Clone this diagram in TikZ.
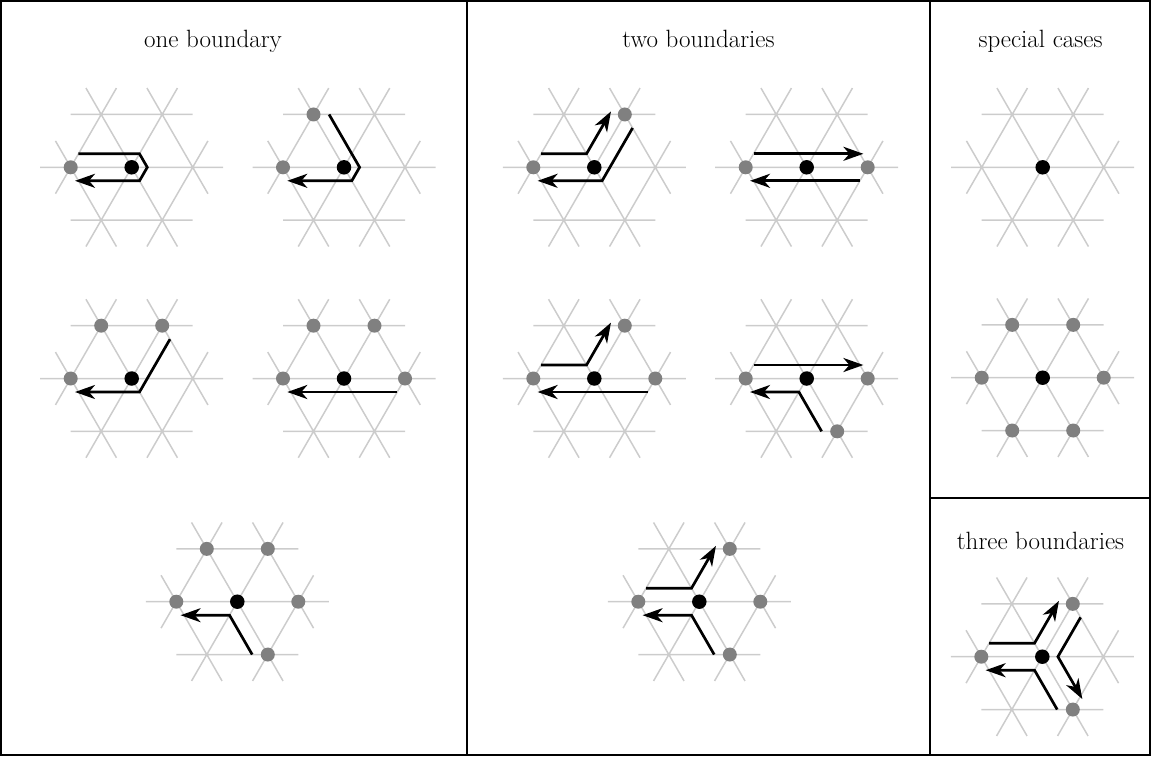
\documentclass[tikz,border=0pt]{standalone}
\usetikzlibrary{arrows.meta}
\definecolor{latgray}{gray}{0.8}
\definecolor{dotgray}{gray}{0.5}
\def\la{61}
\def\lh{52.828}
\def\lr{15.588}
\expandafter\def\csname lptOx\endcsname{0}
\expandafter\def\csname lptOy\endcsname{0}
\expandafter\def\csname lptWx\endcsname{-\la}
\expandafter\def\csname lptWy\endcsname{0}
\expandafter\def\csname lptEx\endcsname{\la}
\expandafter\def\csname lptEy\endcsname{0}
\expandafter\def\csname lptNWx\endcsname{-0.5*\la}
\expandafter\def\csname lptNWy\endcsname{\lh}
\expandafter\def\csname lptNEx\endcsname{0.5*\la}
\expandafter\def\csname lptNEy\endcsname{\lh}
\expandafter\def\csname lptSWx\endcsname{-0.5*\la}
\expandafter\def\csname lptSWy\endcsname{-\lh}
\expandafter\def\csname lptSEx\endcsname{0.5*\la}
\expandafter\def\csname lptSEy\endcsname{-\lh}
\newcommand\V[2]{({\csname lpt#1x\endcsname+\lr*cos(#2)},{\csname lpt#1y\endcsname+\lr*sin(#2)})}
\newcommand\gd[2]{\node[gdot] (#1) at ({\csname lpt#2x\endcsname},{\csname lpt#2y\endcsname}) {};}
\newcommand\latt{%
 \draw[latline] (-1.5*\la,0) -- (1.5*\la,0)
   (-\la,\lh) -- (\la,\lh)
   (-\la,-\lh) -- (\la,-\lh)
   (-0.75*\la,-1.5*\lh) -- (0.75*\la,1.5*\lh)
   (-1.25*\la,-0.5*\lh) -- (-0.25*\la,1.5*\lh)
   (0.25*\la,-1.5*\lh) -- (1.25*\la,0.5*\lh)
   (0.75*\la,-1.5*\lh) -- (-0.75*\la,1.5*\lh)
   (1.25*\la,-0.5*\lh) -- (0.25*\la,1.5*\lh)
   (-0.25*\la,-1.5*\lh) -- (-1.25*\la,0.5*\lh);
}
\tikzset{
  latline/.style={draw=latgray, line width=1.5pt},
  bdot/.style={circle, fill=black, inner sep=0pt, minimum size=14.5pt},
  gdot/.style={circle, fill=dotgray, inner sep=0pt, minimum size=14pt},
  bpath/.style={draw=black, line width=2.7pt},
  barrow/.style={bpath, shorten >=-3.5pt, -{Stealth[length=20pt,width=14pt,inset=6pt]}},
  frame/.style={draw=black, line width=2pt},
  title/.style={font=\fontsize{25}{30}\selectfont, anchor=base}
}
\begin{document}
\begin{tikzpicture}[x=1pt,y=-1pt]
\useasboundingbox (0,0) rectangle (1151,756);
\draw[frame] (1,1) rectangle (1150,755);
\draw[frame] (467,1) -- (467,755) (930,1) -- (930,755) (930,498) -- (1150,498);
\node[title] (t1) at (213,47) {one boundary};
\node[title] (t2) at (698.5,47) {two boundaries};
\node[title] (t3) at (1040.5,47) {special cases};
\node[title] (t4) at (1040.5,549) {three boundaries};
% D1
\begin{scope}[shift={(131.7,167.3)},yscale=-1]
 \latt
 \gd{d1W}{W}
 \node[bdot] (d1O) at (0,0) {};
 \draw[barrow] \V{W}{60} -- \V{O}{60} -- \V{O}{0} -- \V{O}{300} -- \V{W}{300};
\end{scope}
% D2
\begin{scope}[shift={(344,167.3)},yscale=-1]
 \latt
 \gd{d2W}{W}\gd{d2NW}{NW}
 \node[bdot] (d2O) at (0,0) {};
 \draw[barrow] \V{NW}{0} -- \V{O}{0} -- \V{O}{300} -- \V{W}{300};
\end{scope}
% D3
\begin{scope}[shift={(131.7,378.5)},yscale=-1]
 \latt
 \gd{d3W}{W}\gd{d3NW}{NW}\gd{d3NE}{NE}
 \node[bdot] (d3O) at (0,0) {};
 \draw[barrow] \V{NE}{300} -- \V{O}{300} -- \V{W}{300};
\end{scope}
% D4
\begin{scope}[shift={(344,378.5)},yscale=-1]
 \latt
 \gd{d4W}{W}\gd{d4NW}{NW}\gd{d4NE}{NE}\gd{d4E}{E}
 \node[bdot] (d4O) at (0,0) {};
 \draw[barrow] \V{E}{240} -- \V{W}{300};
\end{scope}
% D5
\begin{scope}[shift={(237.3,601.7)},yscale=-1]
 \latt
 \gd{d5W}{W}\gd{d5NW}{NW}\gd{d5NE}{NE}\gd{d5E}{E}\gd{d5SE}{SE}
 \node[bdot] (d5O) at (0,0) {};
 \draw[barrow] \V{SE}{180} -- \V{O}{240} -- \V{W}{300};
\end{scope}
% D6
\begin{scope}[shift={(594.3,167.3)},yscale=-1]
 \latt
 \gd{d6W}{W}\gd{d6NE}{NE}
 \node[bdot] (d6O) at (0,0) {};
 \draw[barrow] \V{W}{60} -- \V{O}{120} -- \V{NE}{180};
 \draw[barrow] \V{NE}{300} -- \V{O}{300} -- \V{W}{300};
\end{scope}
% D7
\begin{scope}[shift={(806.7,167.3)},yscale=-1]
 \latt
 \gd{d7W}{W}\gd{d7E}{E}
 \node[bdot] (d7O) at (0,0) {};
 \draw[barrow] \V{W}{60} -- \V{E}{120};
 \draw[barrow] \V{E}{240} -- \V{W}{300};
\end{scope}
% D8
\begin{scope}[shift={(594.3,378.5)},yscale=-1]
 \latt
 \gd{d8W}{W}\gd{d8NE}{NE}\gd{d8E}{E}
 \node[bdot] (d8O) at (0,0) {};
 \draw[barrow] \V{W}{60} -- \V{O}{120} -- \V{NE}{180};
 \draw[barrow] \V{E}{240} -- \V{W}{300};
\end{scope}
% D9
\begin{scope}[shift={(806.7,378.5)},yscale=-1]
 \latt
 \gd{d9W}{W}\gd{d9E}{E}\gd{d9SE}{SE}
 \node[bdot] (d9O) at (0,0) {};
 \draw[barrow] \V{W}{60} -- \V{E}{120};
 \draw[barrow] \V{SE}{180} -- \V{O}{240} -- \V{W}{300};
\end{scope}
% D10
\begin{scope}[shift={(699.3,601.7)},yscale=-1]
 \latt
 \gd{d10W}{W}\gd{d10NE}{NE}\gd{d10E}{E}\gd{d10SE}{SE}
 \node[bdot] (d10O) at (0,0) {};
 \draw[barrow] \V{W}{60} -- \V{O}{120} -- \V{NE}{180};
 \draw[barrow] \V{SE}{180} -- \V{O}{240} -- \V{W}{300};
\end{scope}
% D11
\begin{scope}[shift={(1042.7,167.3)},yscale=-1]
 \latt
 \node[bdot] (d11O) at (0,0) {};
\end{scope}
% D12
\begin{scope}[shift={(1042.7,377.7)},yscale=-1]
 \latt
 \gd{d12W}{W}\gd{d12NW}{NW}\gd{d12NE}{NE}\gd{d12E}{E}\gd{d12SE}{SE}\gd{d12SW}{SW}
 \node[bdot] (d12O) at (0,0) {};
\end{scope}
% D13
\begin{scope}[shift={(1042.3,656.7)},yscale=-1]
 \latt
 \gd{d13W}{W}\gd{d13NE}{NE}\gd{d13SE}{SE}
 \node[bdot] (d13O) at (0,0) {};
 \draw[barrow] \V{W}{60} -- \V{O}{120} -- \V{NE}{180};
 \draw[barrow] \V{SE}{180} -- \V{O}{240} -- \V{W}{300};
 \draw[barrow] \V{NE}{300} -- \V{O}{0} -- \V{SE}{60};
\end{scope}
\end{tikzpicture}
\end{document}
